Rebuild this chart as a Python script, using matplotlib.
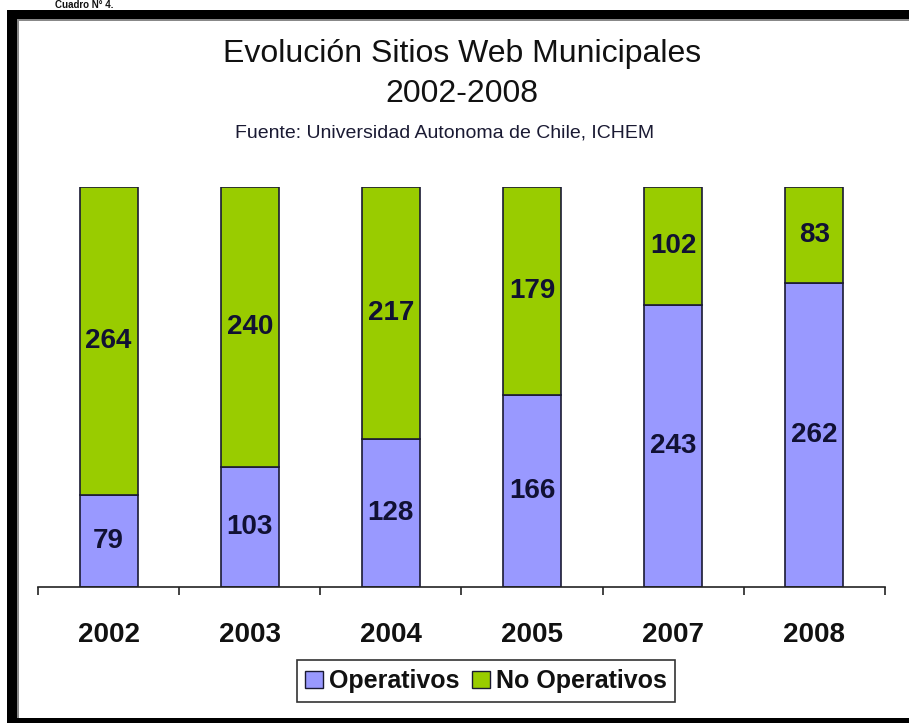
import matplotlib
matplotlib.use("Agg")
import matplotlib.pyplot as plt
from matplotlib.patches import Rectangle, Patch
import numpy as np

years = ["2002", "2003", "2004", "2005", "2007", "2008"]
operativos = [79, 103, 128, 166, 243, 262]
no_operativos = [264, 240, 217, 179, 102, 83]

plt.rcParams['font.family'] = ['Liberation Sans', 'DejaVu Sans']

W, H = 909, 723
fig = plt.figure(figsize=(W / 100, H / 100), dpi=100)
fig.patch.set_facecolor("white")


def px(x, y):
    return x / W, (H - y) / H


# axes placed in pixel terms
left, top = px(38, 187)
right, bottom = px(885, 587)
ax = fig.add_axes([left, bottom, right - left, top - bottom])

op = np.array(operativos, dtype=float)
nop = np.array(no_operativos, dtype=float)
tot = op + nop
op_f = op / tot
nop_f = nop / tot
x = np.arange(len(years))

blue = "#9999FF"
green = "#99CC00"
edge = "#1a1a33"

ax.bar(x, op_f, width=0.41, color=blue, edgecolor=edge, linewidth=1.2)
ax.bar(x, nop_f, width=0.41, bottom=op_f, color=green, edgecolor=edge, linewidth=1.2)

for i in range(len(years)):
    ax.text(x[i], op_f[i] / 2, str(operativos[i]), ha="center", va="center",
            fontsize=20, fontweight="bold", color="#111133")
    ax.text(x[i], op_f[i] + nop_f[i] / 2, str(no_operativos[i]), ha="center",
            va="center", fontsize=20, fontweight="bold", color="#111133")

ax.set_xlim(-0.5, len(years) - 0.5)
ax.set_ylim(0, 1)
for s in ["top", "left", "right"]:
    ax.spines[s].set_visible(False)
ax.spines["bottom"].set_linewidth(1.2)
ax.spines["bottom"].set_color("#222222")
ax.set_yticks([])
ax.set_xticks(x)
ax.set_xticklabels(years, fontsize=20, fontweight="bold", color="#111111")
ax.set_xticks(np.arange(-0.5, len(years), 1.0), minor=True)
ax.tick_params(axis="x", which="major", length=0, pad=25)
ax.tick_params(axis="x", which="minor", length=6, width=1.2, color="#222222", direction="out")

# titles
fig.text(*px(462, 62), "Evolución Sitios Web Municipales", ha="center", va="baseline",
         fontsize=23, color="#111111")
fig.text(*px(462, 102), "2002-2008", ha="center", va="baseline",
         fontsize=23, color="#111111")
fig.text(*px(445, 138), "Fuente: Universidad Autonoma de Chile, ICHEM", ha="center",
         va="baseline", fontsize=14, color="#1a1a33")

# caption squeezed above the frame
fig.text(*px(55, 8), "Cuadro N° 4.", ha="left", va="baseline", fontsize=7,
         fontweight="bold", color="#111111")

# legend
handles = [Patch(facecolor=blue, edgecolor=edge, label="Operativos"),
           Patch(facecolor=green, edgecolor=edge, label="No Operativos")]
leg = fig.legend(handles=handles, loc="center", bbox_to_anchor=px(486, 681), ncol=2,
                 frameon=True, fancybox=False, edgecolor="black",
                 prop={"weight": "bold", "size": 18}, handlelength=0.7, handleheight=0.7,
                 handletextpad=0.25, columnspacing=0.5, borderpad=0.35, borderaxespad=0)
leg.get_frame().set_linewidth(1.2)
for t in leg.get_texts():
    t.set_color("#111111")

# black frame around the chart
frame = [
    (7, 10, W - 7, 9, "black"),
    (7, 10, 10, H - 10, "black"),
    (7, 718, W - 7, 5, "black"),
    (17, 19, W - 17, 1.5, "#888888"),
    (17, 19, 1.5, 699, "#888888"),
]
for fx, fy, fw, fh, c in frame:
    x0, y1 = px(fx, fy + fh)
    fig.patches.append(Rectangle((x0, y1), fw / W, fh / H, transform=fig.transFigure,
                                 facecolor=c, edgecolor="none", zorder=5))

fig.savefig("out.png", dpi=100)
